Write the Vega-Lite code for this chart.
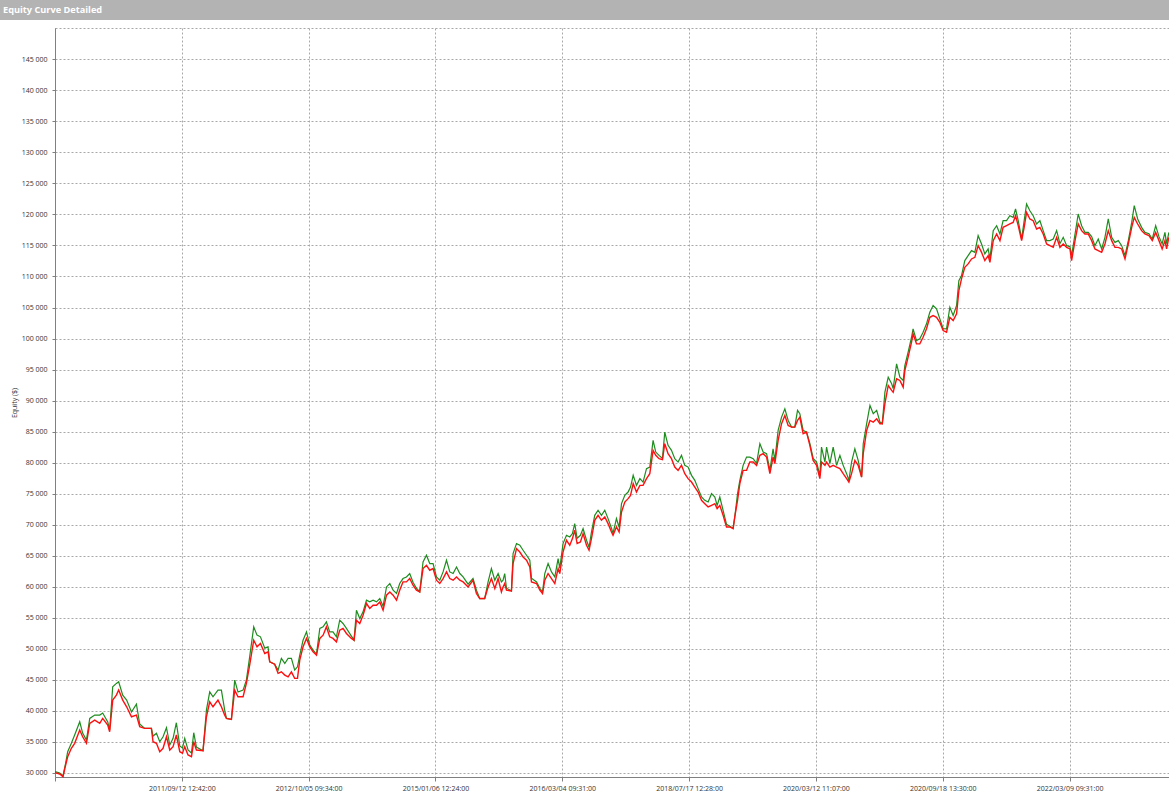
{
"$schema": "https://vega.github.io/schema/vega-lite/v6.json",
"padding": 0,
"background": "white",
"bounds": "flush",
"spacing": 8,
"config": {"view": {"stroke": null}, "font": "Open Sans"},
"vconcat": [
{
"width": 1169, "height": 20,
"view": {"fill": "#b3b3b3", "stroke": null},
"data": {"values": [{"t": ""}]},
"mark": {"type": "text"},
"encoding": {"text": {"field": "t", "type": "nominal"}},
"title": {"text": "Equity Curve Detailed", "anchor": "start", "frame": "group", "offset": -15, "dx": 3, "color": "white", "fontSize": 9.2, "fontWeight": "bold", "font": "Open Sans"}
},
{
"bounds": "flush",
"spacing": 0,
"hconcat": [
{
"width": 55, "height": 749,
"data": {"values": [{"t": ""}]},
"mark": {"type": "text"},
"encoding": {"text": {"field": "t", "type": "nominal"}}
},
{
"width": 1114, "height": 749,
"view": {"stroke": "#a8a8a8", "strokeDash": [2, 2]},
"data": {"values": [
{"i":0,"r":30050,"g":30210},{"i":3.7,"r":29840,"g":30000},{"i":6.3,"r":29410,"g":29520},{"i":8.4,"r":31290,"g":31610},{"i":10.0,"r":32620,"g":33430},{"i":12.9,"r":33980,"g":34780},{"i":15.5,"r":34780,"g":36120},{"i":19.5,"r":36920,"g":38260},{"i":21.8,"r":35840,"g":36440},{"i":24.8,"r":34780,"g":35310},
{"i":27.4,"r":38000,"g":38800},{"i":31.3,"r":38530,"g":39330},{"i":35.3,"r":38000,"g":39330},{"i":37.6,"r":38800,"g":39660},{"i":41.6,"r":37730,"g":38210},{"i":43.1,"r":36650,"g":36920},{"i":45.5,"r":41750,"g":43890},{"i":48.4,"r":42550,"g":44440},{"i":50.2,"r":43360,"g":44690},{"i":53.4,"r":41750,"g":42550},
{"i":56.5,"r":40670,"g":41750},{"i":60.3,"r":39060,"g":39820},{"i":64.2,"r":39330,"g":41100},{"i":66.8,"r":37450,"g":37890},{"i":70.7,"r":37190,"g":37190},{"i":76.0,"r":37190,"g":37190},{"i":77.3,"r":35040,"g":35950},{"i":80.0,"r":34780,"g":36390},{"i":82.6,"r":33430,"g":35040},{"i":85.2,"r":33980,"g":35840},
{"i":87.9,"r":35840,"g":37290},{"i":90.5,"r":33700,"g":34510},{"i":93.1,"r":34230,"g":35580},{"i":95.7,"r":36120,"g":38100},{"i":98.4,"r":33430,"g":34350},{"i":100.5,"r":33170,"g":34020},{"i":102.3,"r":34230,"g":35580},{"i":104.9,"r":32900,"g":33700},{"i":107.6,"r":32620,"g":33220},{"i":109.4,"r":35040,"g":36490},
{"i":111.5,"r":33700,"g":34180},{"i":116.7,"r":33590,"g":33590},{"i":119.4,"r":39060,"g":40140},{"i":122.0,"r":41470,"g":43080},{"i":124.6,"r":40670,"g":42280},{"i":128.5,"r":41750,"g":43360},{"i":131.2,"r":40670,"g":43360},{"i":133.8,"r":39330,"g":40140},{"i":135.2,"r":38800,"g":38800},{"i":139.1,"r":38640,"g":38640},
{"i":141.7,"r":43360,"g":44970},{"i":144.3,"r":42280,"g":43040},{"i":148.3,"r":42280,"g":43360},{"i":150.9,"r":44440,"g":44970},{"i":153.5,"r":47380,"g":48720},{"i":156.7,"r":51400,"g":53540},{"i":159.3,"r":50330,"g":52210},{"i":162.0,"r":50870,"g":51940},{"i":165.4,"r":49260,"g":50120},{"i":168.0,"r":49520,"g":50330},
{"i":169.3,"r":47910,"g":47910},{"i":173.2,"r":47540,"g":47540},{"i":175.9,"r":46050,"g":46580},{"i":178.5,"r":46300,"g":48460},{"i":181.2,"r":45770,"g":47650},{"i":183.8,"r":45500,"g":48460},{"i":186.4,"r":46300,"g":48460},{"i":189.0,"r":45240,"g":46580},{"i":191.2,"r":45240,"g":47110},{"i":193.0,"r":48190,"g":48990},
{"i":195.6,"r":50330,"g":51400},{"i":198.3,"r":51680,"g":52740},{"i":200.9,"r":50330,"g":50600},{"i":203.5,"r":49520,"g":49790},{"i":206.2,"r":48990,"g":49150},{"i":208.8,"r":51680,"g":53290},{"i":211.4,"r":52210,"g":53540},{"i":214.0,"r":53540,"g":54350},{"i":216.6,"r":51940,"g":52740},{"i":219.2,"r":51680,"g":52740},
{"i":221.9,"r":51130,"g":51940},{"i":224.5,"r":53010,"g":54620},{"i":227.1,"r":53290,"g":54090},{"i":229.8,"r":52480,"g":53290},{"i":233.7,"r":51680,"g":52050},{"i":235.8,"r":51400,"g":51400},{"i":237.7,"r":54620,"g":56230},{"i":240.3,"r":54090,"g":54900},{"i":242.9,"r":55430,"g":55960},{"i":245.6,"r":57310,"g":57840},
{"i":248.2,"r":56510,"g":57570},{"i":250.8,"r":57040,"g":57840},{"i":253.5,"r":57040,"g":57570},{"i":256.1,"r":57570,"g":58110},{"i":258.7,"r":56230,"g":56880},{"i":261.4,"r":58650,"g":59980},{"i":264.0,"r":59180,"g":60530},{"i":266.6,"r":58650,"g":59450},{"i":269.3,"r":57840,"g":58920},{"i":271.8,"r":59450,"g":60530},
{"i":274.4,"r":60790,"g":61330},{"i":277.1,"r":60790,"g":61590},{"i":279.7,"r":61330,"g":62140},{"i":282.3,"r":60260,"g":60740},{"i":285.0,"r":59450,"g":59770},{"i":287.6,"r":59180,"g":59180},{"i":290.2,"r":62940,"g":64010},{"i":292.9,"r":63470,"g":65080},{"i":295.5,"r":62670,"g":63750},{"i":298.1,"r":62940,"g":63750},
{"i":300.8,"r":61060,"g":61590},{"i":303.4,"r":60530,"g":61060},{"i":306.0,"r":61330,"g":62400},{"i":308.7,"r":62400,"g":64280},{"i":311.3,"r":61330,"g":62400},{"i":313.9,"r":61060,"g":62140},{"i":316.6,"r":61590,"g":63200},{"i":319.2,"r":61060,"g":62140},{"i":321.8,"r":60790,"g":61590},{"i":325.7,"r":59980,"g":60420},
{"i":329.6,"r":61060,"g":61330},{"i":332.3,"r":58920,"g":59450},{"i":334.9,"r":58110,"g":58110},{"i":338.8,"r":58110,"g":58110},{"i":341.5,"r":59980,"g":60790},{"i":344.1,"r":61330,"g":62940},{"i":346.8,"r":59720,"g":61060},{"i":349.4,"r":61330,"g":62140},{"i":352.0,"r":59180,"g":60790},{"i":353.3,"r":59980,"g":61060},
{"i":354.6,"r":60530,"g":62140},{"i":356.0,"r":59450,"g":59770},{"i":359.9,"r":59340,"g":59340},{"i":361.2,"r":63750,"g":65360},{"i":363.9,"r":66160,"g":66970},{"i":366.5,"r":65610,"g":66690},{"i":369.1,"r":64810,"g":65890},{"i":371.8,"r":64280,"g":65080},{"i":374.4,"r":63200,"g":64280},{"i":375.7,"r":60790,"g":61380},
{"i":379.7,"r":60530,"g":60790},{"i":382.3,"r":59450,"g":59770},{"i":384.4,"r":58920,"g":59130},{"i":386.2,"r":61060,"g":62140},{"i":388.8,"r":62140,"g":63750},{"i":391.5,"r":61330,"g":62400},{"i":394.1,"r":60530,"g":61590},{"i":396.7,"r":62940,"g":64550},{"i":398.0,"r":62140,"g":62990},{"i":400.6,"r":65610,"g":66970},
{"i":403.3,"r":67500,"g":68300},{"i":405.9,"r":66690,"g":68030},{"i":408.0,"r":67770,"g":68580},{"i":409.8,"r":69110,"g":70180},{"i":411.7,"r":66970,"g":67820},{"i":414.3,"r":67220,"g":68300},{"i":416.4,"r":68580,"g":69380},{"i":419.1,"r":66690,"g":67500},{"i":421.1,"r":65890,"g":66370},{"i":423.0,"r":67770,"g":68830},
{"i":425.6,"r":70720,"g":71520},{"i":428.2,"r":71520,"g":72330},{"i":430.9,"r":70720,"g":71520},{"i":433.5,"r":71250,"g":72330},{"i":436.1,"r":70180,"g":70990},{"i":438.8,"r":68830,"g":69430},{"i":440.0,"r":68300,"g":68620},{"i":442.7,"r":69640,"g":70990},{"i":444.8,"r":68830,"g":69590},{"i":446.7,"r":72050,"g":73400},
{"i":449.3,"r":73660,"g":74740},{"i":451.9,"r":74210,"g":75270},{"i":453.8,"r":74740,"g":76070},{"i":455.9,"r":76620,"g":77960},{"i":458.5,"r":75270,"g":76350},{"i":461.2,"r":76350,"g":77430},{"i":463.7,"r":76350,"g":76880},{"i":466.4,"r":77430,"g":79040},{"i":469.0,"r":78230,"g":79290},{"i":471.6,"r":81980,"g":83590},
{"i":473.7,"r":81180,"g":81710},{"i":476.3,"r":80650,"g":81180},{"i":479.0,"r":80480,"g":80690},{"i":480.8,"r":83060,"g":84930},{"i":483.4,"r":81450,"g":82790},{"i":486.1,"r":80650,"g":81980},{"i":488.7,"r":79290,"g":80650},{"i":491.3,"r":78760,"g":80100},{"i":494.0,"r":79570,"g":81180},{"i":496.6,"r":78230,"g":79570},
{"i":499.2,"r":77430,"g":79290},{"i":501.9,"r":76880,"g":77960},{"i":504.5,"r":76070,"g":77150},{"i":507.1,"r":75270,"g":75820},{"i":509.8,"r":73930,"g":74470},{"i":512.4,"r":73400,"g":73930},{"i":515.0,"r":72860,"g":73660},{"i":517.7,"r":73130,"g":75010},{"i":520.3,"r":73400,"g":74470},{"i":522.1,"r":72600,"g":73130},
{"i":524.2,"r":73130,"g":74470},{"i":526.8,"r":71520,"g":72330},{"i":529.5,"r":69640,"g":70070},{"i":532.1,"r":69640,"g":69750},{"i":534.7,"r":69380,"g":69430},{"i":536.0,"r":71250,"g":71250},{"i":538.2,"r":73930,"g":75010},{"i":540.0,"r":76620,"g":77150},{"i":542.6,"r":78760,"g":79570},{"i":545.3,"r":78760,"g":80900},
{"i":547.9,"r":80100,"g":80900},{"i":550.5,"r":80100,"g":80650},{"i":553.2,"r":79570,"g":79890},{"i":555.8,"r":81180,"g":83060},{"i":558.4,"r":81450,"g":81710},{"i":561.1,"r":80900,"g":81450},{"i":563.7,"r":78230,"g":78760},{"i":566.2,"r":80900,"g":82250},{"i":567.6,"r":79840,"g":80370},{"i":570.2,"r":83590,"g":85200},
{"i":572.9,"r":86280,"g":87340},{"i":575.5,"r":87610,"g":88690},{"i":578.1,"r":86000,"g":86810},{"i":580.8,"r":85730,"g":85730},{"i":583.3,"r":85730,"g":85730},{"i":585.5,"r":86810,"g":88420},{"i":587.3,"r":87340,"g":87890},{"i":589.9,"r":84670,"g":85200},{"i":592.6,"r":84930,"g":84930},{"i":595.2,"r":82790,"g":83110},
{"i":597.8,"r":80370,"g":80690},{"i":600.5,"r":79570,"g":80100},{"i":603.1,"r":77430,"g":77960},{"i":604.4,"r":80100,"g":82510},{"i":607.1,"r":79570,"g":80100},{"i":608.4,"r":80100,"g":82510},{"i":611.0,"r":79290,"g":79840},{"i":613.6,"r":79570,"g":82510},{"i":616.3,"r":79290,"g":79570},{"i":618.9,"r":79040,"g":81180},
{"i":621.5,"r":78230,"g":79570},{"i":624.2,"r":77430,"g":78230},{"i":626.0,"r":76880,"g":77150},{"i":628.1,"r":78230,"g":80100},{"i":630.7,"r":80370,"g":82250},{"i":633.3,"r":79570,"g":80370},{"i":636.0,"r":77680,"g":77680},{"i":637.3,"r":81450,"g":83060},{"i":640.0,"r":85200,"g":86280},{"i":642.6,"r":86810,"g":89220},
{"i":645.2,"r":86540,"g":87890},{"i":647.9,"r":87080,"g":88420},{"i":650.5,"r":86280,"g":86540},{"i":652.3,"r":86280,"g":86280},{"i":654.4,"r":89500,"g":91360},{"i":657.0,"r":92440,"g":93780},{"i":659.7,"r":91640,"g":92710},{"i":660.9,"r":91360,"g":91960},{"i":663.6,"r":93520,"g":95930},{"i":666.2,"r":93250,"g":93780},
{"i":668.8,"r":92170,"g":93250},{"i":670.1,"r":94860,"g":95660},{"i":672.7,"r":97000,"g":97800},{"i":675.4,"r":99410,"g":100210},{"i":676.6,"r":100760,"g":101570},{"i":679.3,"r":99150,"g":99680},{"i":681.9,"r":99150,"g":99960},{"i":684.5,"r":100210,"g":101020},{"i":687.2,"r":101570,"g":102370},{"i":689.8,"r":103430,"g":104240},
{"i":692.4,"r":103710,"g":105320},{"i":695.1,"r":103430,"g":104780},{"i":697.7,"r":102630,"g":103180},{"i":700.3,"r":101290,"g":101610},{"i":703.0,"r":101020,"g":101570},{"i":705.6,"r":103430,"g":105040},{"i":708.2,"r":102900,"g":103710},{"i":710.9,"r":103980,"g":105320},{"i":712.7,"r":107730,"g":109340},{"i":714.8,"r":109610,"g":110140},
{"i":717.4,"r":111480,"g":112560},{"i":720.0,"r":112030,"g":113360},{"i":722.7,"r":112830,"g":114170},{"i":725.3,"r":113090,"g":113890},{"i":727.9,"r":114970,"g":116580},{"i":730.6,"r":113890,"g":115240},{"i":733.2,"r":112560,"g":113640},{"i":735.8,"r":113360,"g":114440},{"i":737.2,"r":112280,"g":112880},{"i":739.8,"r":115780,"g":117390},
{"i":742.5,"r":116850,"g":118190},{"i":745.1,"r":115780,"g":116850},{"i":747.6,"r":117920,"g":118990},{"i":750.3,"r":118190,"g":118990},{"i":752.9,"r":118460,"g":119800},{"i":755.5,"r":118720,"g":119530},{"i":757.4,"r":119800,"g":120880},{"i":759.5,"r":118190,"g":118990},{"i":762.2,"r":115780,"g":116050},{"i":764.2,"r":117920,"g":118990},
{"i":766.1,"r":120330,"g":121680},{"i":768.7,"r":119270,"g":120600},{"i":771.3,"r":118990,"g":119800},{"i":774.0,"r":117660,"g":118460},{"i":776.6,"r":117920,"g":118990},{"i":779.2,"r":116850,"g":117390},{"i":781.9,"r":115240,"g":115780},{"i":784.5,"r":114970,"g":115780},{"i":787.1,"r":114700,"g":116050},{"i":789.8,"r":116310,"g":117390},
{"i":792.4,"r":114700,"g":115290},{"i":795.0,"r":115240,"g":116310},{"i":797.7,"r":114700,"g":114970},{"i":800.3,"r":114440,"g":114810},{"i":801.6,"r":112560,"g":113360},{"i":804.3,"r":115780,"g":116850},{"i":806.8,"r":118460,"g":120070},{"i":809.5,"r":117390,"g":118190},{"i":812.1,"r":116850,"g":117110},{"i":814.7,"r":116850,"g":117110},
{"i":817.4,"r":115780,"g":116420},{"i":820.0,"r":114440,"g":114970},{"i":822.6,"r":114170,"g":116050},{"i":825.3,"r":113890,"g":114440},{"i":827.9,"r":115240,"g":116310},{"i":830.5,"r":117390,"g":119270},{"i":833.2,"r":115780,"g":116310},{"i":835.8,"r":114700,"g":115500},{"i":838.4,"r":114700,"g":115780},{"i":841.1,"r":114440,"g":114970},
{"i":843.7,"r":112830,"g":113360},{"i":846.3,"r":115240,"g":115780},{"i":849.0,"r":117920,"g":118720},{"i":851.0,"r":119530,"g":121410},{"i":853.7,"r":118460,"g":119270},{"i":856.8,"r":117390,"g":117920},{"i":859.4,"r":116850,"g":117110},{"i":862.6,"r":116580,"g":116900},{"i":865.2,"r":115780,"g":116050},{"i":867.9,"r":117110,"g":118190},
{"i":870.5,"r":115780,"g":116420},{"i":873.0,"r":114440,"g":115240},{"i":875.2,"r":115780,"g":117110},{"i":876.5,"r":114440,"g":115290},{"i":878.3,"r":116310,"g":117110}
]},
"encoding": {
"x": {"field": "i", "type": "quantitative",
"scale": {"domain": [0, 878.4], "nice": false, "zero": false},
"axis": {"values": [0, 100, 200, 300, 400, 500, 600, 700, 800], "title": null, "grid": true, "gridColor": "#a8a8a8", "gridDash": [2, 2], "gridWidth": 1, "domainColor": "#808080", "tickColor": "#808080", "tickSize": 4, "labelPadding": 3, "labelFont": "Open Sans", "labelFontSize": 7, "labelColor": "#333333", "labelFlush": false, "labelOverlap": false,
"labelExpr": "datum.value == 100 ? '2011/09/12 12:42:00' : datum.value == 200 ? '2012/10/05 09:34:00' : datum.value == 300 ? '2015/01/06 12:24:00' : datum.value == 400 ? '2016/03/04 09:31:00' : datum.value == 500 ? '2018/07/17 12:28:00' : datum.value == 600 ? '2020/03/12 11:07:00' : datum.value == 700 ? '2020/09/18 13:30:00' : datum.value == 800 ? '2022/03/09 09:31:00' : ''"}}
},
"layer": [
{"mark": {"type": "line", "color": "#1e8c1e", "strokeWidth": 1.2, "interpolate": "linear"},
"encoding": {"y": {"field": "g", "type": "quantitative", "title": "Equity ($)",
"scale": {"domain": [29355, 150040], "nice": false, "zero": false},
"axis": {"values": [30000, 35000, 40000, 45000, 50000, 55000, 60000, 65000, 70000, 75000, 80000, 85000, 90000, 95000, 100000, 105000, 110000, 115000, 120000, 125000, 130000, 135000, 140000, 145000], "labelOverlap": false, "labelExpr": "replace(format(datum.value, ','), ',', ' ')", "grid": true, "gridColor": "#a8a8a8", "gridDash": [2, 2], "gridWidth": 1, "domainColor": "#808080", "tickColor": "#808080", "tickSize": 3, "labelPadding": 5, "labelFont": "Open Sans", "labelFontSize": 7, "labelColor": "#333333", "titleFont": "Open Sans", "titleFontSize": 7, "titleFontWeight": "normal", "titleColor": "#333333", "titlePadding": 4}}}},
{"mark": {"type": "line", "color": "#ff1010", "strokeWidth": 1.4, "interpolate": "linear"},
"encoding": {"y": {"field": "r", "type": "quantitative", "title": "Equity ($)",
"scale": {"domain": [29355, 150040], "nice": false, "zero": false},
"axis": {"values": [30000, 35000, 40000, 45000, 50000, 55000, 60000, 65000, 70000, 75000, 80000, 85000, 90000, 95000, 100000, 105000, 110000, 115000, 120000, 125000, 130000, 135000, 140000, 145000], "labelOverlap": false, "labelExpr": "replace(format(datum.value, ','), ',', ' ')", "grid": true, "gridColor": "#a8a8a8", "gridDash": [2, 2], "gridWidth": 1, "domainColor": "#808080", "tickColor": "#808080", "tickSize": 3, "labelPadding": 5, "labelFont": "Open Sans", "labelFontSize": 7, "labelColor": "#333333", "titleFont": "Open Sans", "titleFontSize": 7, "titleFontWeight": "normal", "titleColor": "#333333", "titlePadding": 4}}}}
]
}
]
}
]
}
